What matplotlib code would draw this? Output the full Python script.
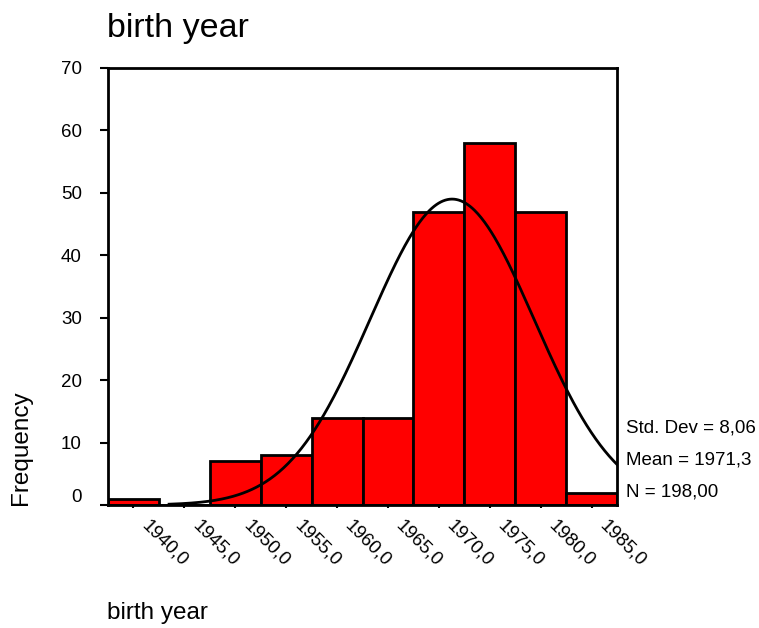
import numpy as np
import matplotlib
matplotlib.use("Agg")
import matplotlib.pyplot as plt
from matplotlib.transforms import ScaledTranslation

plt.rcParams['font.family'] = ['Liberation Sans', 'DejaVu Sans']

bin_centers = [1940, 1945, 1950, 1955, 1960, 1965, 1970, 1975, 1980, 1985]
counts = [1, 0, 7, 8, 14, 14, 47, 58, 47, 2]
tick_labels = ["1940,0", "1945,0", "1950,0", "1955,0", "1960,0",
               "1965,0", "1970,0", "1975,0", "1980,0", "1985,0"]
yticks = [0, 10, 20, 30, 40, 50, 60, 70]
std_dev = 8.06
mean = 1971.3
n = 198
bin_width = 5

W, H = 759, 628
fig = plt.figure(figsize=(W / 100, H / 100), dpi=100)
ax = fig.add_axes([108 / W, 1 - 505 / H, (617 - 108) / W, (505 - 68) / H])

ax.bar(bin_centers, counts, width=bin_width, color='#ff0000',
       edgecolor='black', linewidth=2, zorder=2)

xs = np.linspace(1943.5, 1987.5, 400)
ys = n * bin_width / (std_dev * np.sqrt(2 * np.pi)) * np.exp(-0.5 * ((xs - mean) / std_dev) ** 2)
ax.plot(xs, ys, color='black', linewidth=2, zorder=3)

ax.set_xlim(1937.5, 1987.5)
ax.set_ylim(0, 70)
ax.set_yticks(yticks)
ax.set_yticklabels(['' if v == 0 else str(v) for v in yticks], fontsize=13.5)
ax.set_xticks(bin_centers)
ax.set_xticklabels([''] * len(bin_centers))

# rotated x tick labels
xoff = ax.get_xaxis_transform() + ScaledTranslation(17 / 100, -12 / 100, fig.dpi_scale_trans)
for c, lab in zip(bin_centers, tick_labels):
    ax.text(c, 0, lab, transform=xoff, fontsize=13.5, rotation=-45,
            rotation_mode='anchor', ha='left', va='top', clip_on=False)

# the "0" label sits a little higher than the axis in the original
yoff = ax.get_yaxis_transform() + ScaledTranslation(-26 / 100, 8 / 100, fig.dpi_scale_trans)
ax.text(0, yticks[0], str(yticks[0]), transform=yoff, fontsize=13.5,
        ha='right', va='center', clip_on=False)

ax.tick_params(axis='y', direction='out', length=5.8, width=1.5, pad=13)
ax.tick_params(axis='x', direction='out', length=2.5, width=1.5, pad=4)
for s in ax.spines.values():
    s.set_linewidth(2)

fig.text(107 / W, 1 - 29 / H, "birth year", fontsize=24.5, ha='left', va='center')
fig.text(107 / W, 1 - 613 / H, "birth year", fontsize=17.5, ha='left', va='center')
fig.text(21 / W, 1 - 505 / H, "Frequency", fontsize=17.5, rotation=90,
         ha='center', va='bottom')

stats = ["Std. Dev = " + f"{std_dev:.2f}".replace('.', ','),
         "Mean = " + f"{mean:.1f}".replace('.', ','),
         "N = " + f"{n:.2f}".replace('.', ',')]
for i, s in enumerate(stats):
    fig.text(626 / W, 1 - (428 + 32 * i) / H, s, fontsize=13.5, ha='left', va='center')

fig.savefig("out.png", dpi=100)
